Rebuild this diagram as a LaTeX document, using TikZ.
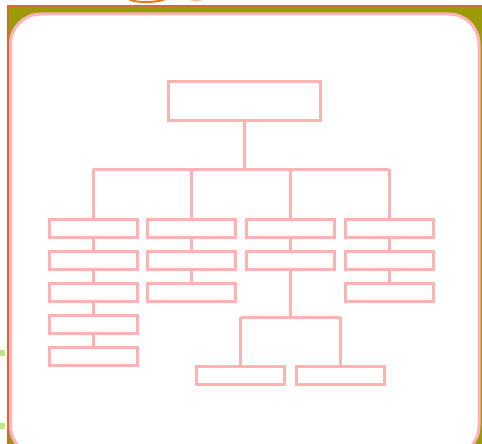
\documentclass[tikz,border=0pt]{standalone}
\usepackage{amsmath}
\usepackage{tikz}

\definecolor{boxpink}{RGB}{255,178,178}
\definecolor{framepink}{RGB}{255,176,184}
\definecolor{olivebg}{RGB}{155,155,10}
\definecolor{rimorange}{RGB}{210,108,52}
\definecolor{iconorange}{RGB}{235,120,20}
\definecolor{markgreen}{RGB}{192,230,130}

\begin{document}
\begin{tikzpicture}[x=1pt, y=-1pt,
		unit/.style={draw=boxpink, line width=3pt, minimum width=88pt, minimum height=18pt, inner sep=0pt},
		link/.style={draw=boxpink, line width=3pt}]
		\useasboundingbox (0,0) rectangle (482,444);
		\clip (0,0) rectangle (482,444);

		% backdrop and card
		\fill[olivebg] (8,6) rectangle (482,444);
		\draw[rimorange, line width=2pt] (8,444) -- (8,6) -- (482,6);
		\filldraw[fill=white, draw=framepink, line width=3pt, rounded corners=30pt] (10.5,14) rectangle (479,456);
		\draw[iconorange, line width=2pt] (129,-1) .. controls (133,3) and (158,3) .. (165,-1);
		\draw[iconorange!40, line width=1.5pt] (189,-1) .. controls (194,1.5) and (199,1.5) .. (203,-1);
		\fill[markgreen] (0,350) rectangle (5,356);
		\fill[markgreen] (0,423) rectangle (5,429);

		% chart
		\node[unit, minimum width=152pt, minimum height=39pt] (head) at (244,101) {};

		\coordinate (B0) at (244,169);
		\coordinate (B1) at (93,169);
		\coordinate (B2) at (191,169);
		\coordinate (B3) at (290,169);
		\coordinate (B4) at (389,169);

		\node[unit] (a1) at (93,228) {};
		\node[unit] (a2) at (93,260) {};
		\node[unit] (a3) at (93,292) {};
		\node[unit] (a4) at (93,324) {};
		\node[unit] (a5) at (93,356) {};

		\node[unit] (b1) at (191,228) {};
		\node[unit] (b2) at (191,260) {};
		\node[unit] (b3) at (191,292) {};

		\node[unit] (c1) at (290,228) {};
		\node[unit] (c2) at (290,260) {};

		\node[unit] (d1) at (389,228) {};
		\node[unit] (d2) at (389,260) {};
		\node[unit] (d3) at (389,292) {};

		\coordinate (S0) at (290,317);
		\coordinate (S1) at (240.5,317);
		\coordinate (S2) at (340,317);

		\node[unit] (e1) at (240.5,375) {};
		\node[unit] (e2) at (340,375) {};

		\draw[link] (head) -- (B0);
		\draw[link] (B1) -- (B4);
		\draw[link] (B1) -- (a1);
		\draw[link] (B2) -- (b1);
		\draw[link] (B3) -- (c1);
		\draw[link] (B4) -- (d1);

		\draw[link] (a1) -- (a2);
		\draw[link] (a2) -- (a3);
		\draw[link] (a3) -- (a4);
		\draw[link] (a4) -- (a5);
		\draw[link] (b1) -- (b2);
		\draw[link] (b2) -- (b3);
		\draw[link] (c1) -- (c2);
		\draw[link] (d1) -- (d2);
		\draw[link] (d2) -- (d3);

		\draw[link] (c2) -- (S0);
		\draw[link] (S1) -- (S2);
		\draw[link] (S1) -- (e1);
		\draw[link] (S2) -- (e2);
	\end{tikzpicture}
\end{document}
